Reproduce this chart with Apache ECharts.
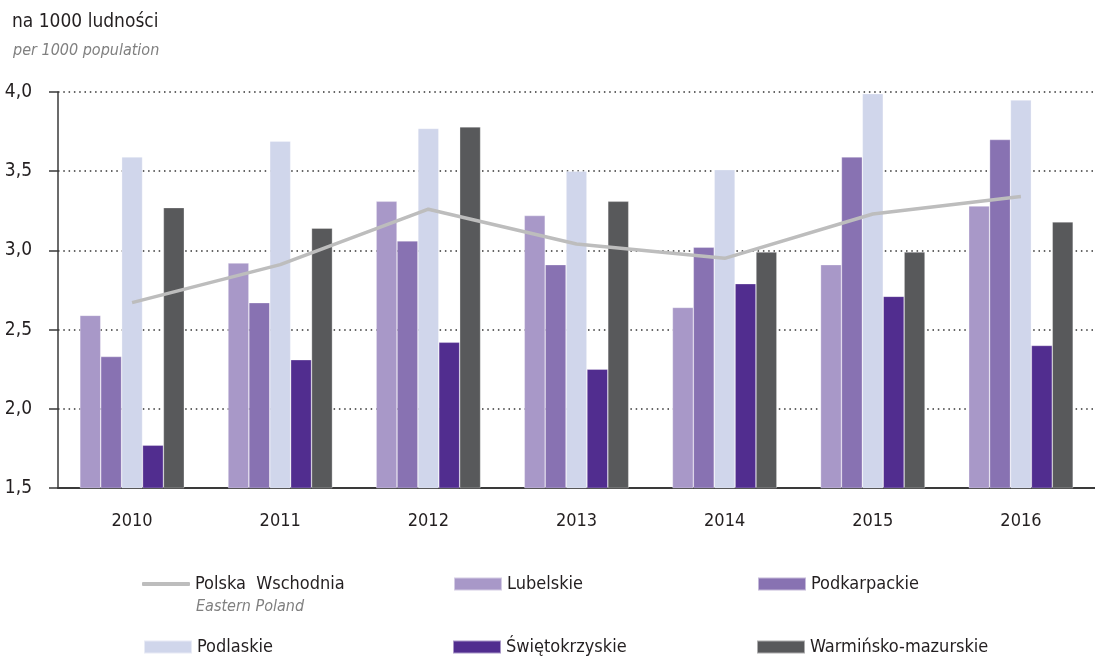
<!DOCTYPE html>
<html>
<head>
<meta charset="utf-8">
<script src="https://cdn.jsdelivr.net/npm/echarts@6/dist/echarts.min.js"></script>
<style>
  html, body { margin: 0; padding: 0; background: #fff; }
  #chart { width: 1095px; height: 657px; }
</style>
</head>
<body>
<div id="chart"></div>
<script>
const years = ['2010', '2011', '2012', '2013', '2014', '2015', '2016']
const polskaWschodnia = [2.67, 2.91, 3.26, 3.04, 2.95, 3.23, 3.34]
const lubelskie = [2.59, 2.92, 3.31, 3.22, 2.64, 2.91, 3.28]
const podkarpackie = [2.33, 2.67, 3.06, 2.91, 3.02, 3.59, 3.70]
const podlaskie = [3.59, 3.69, 3.77, 3.50, 3.51, 3.99, 3.95]
const swietokrzyskie = [1.77, 2.31, 2.42, 2.25, 2.79, 2.71, 2.40]
const warminskoMazurskie = [3.27, 3.14, 3.78, 3.31, 2.99, 2.99, 3.18]

const font = '"Liberation Sans Narrow", "DejaVu Sans Condensed", "Liberation Sans", sans-serif'
const textColor = '#231f20'

const chart = echarts.init(document.getElementById('chart'))

function bar(name, data, color) {
  return {
    name: name,
    type: 'bar',
    data: data,
    barGap: 0,
    barCategoryGap: '29.5%',
    itemStyle: { color: color, borderColor: 'rgba(255,255,255,0.5)', borderWidth: 0.6 }
  }
}

function legendAt(name, left, top, icon, h) {
  return {
    data: [{ name: name, icon: icon || 'rect' }],
    left: left,
    top: top,
    padding: 0,
    itemWidth: 48,
    itemHeight: h || 13,
    itemGap: 6,
    selectedMode: false,
    textStyle: { fontFamily: font, fontSize: 18, color: textColor }
  }
}

const option = {
  animation: false,
  textStyle: { fontFamily: font },
  title: [
    {
      text: 'na 1000 ludności',
      left: 7,
      top: 8,
      textStyle: { fontFamily: font, fontSize: 19, fontWeight: 'normal', color: textColor }
    },
    {
      text: 'per 1000 population',
      left: 8,
      top: 38,
      textStyle: { fontFamily: font, fontSize: 16, fontWeight: 'normal', fontStyle: 'italic', color: '#808080' }
    }
  ],
  legend: [
    legendAt('Polska  Wschodnia', 142, 575, 'roundRect', 4),
    legendAt('Lubelskie', 453, 575),
    legendAt('Podkarpackie', 757, 575),
    legendAt('Podlaskie', 143, 638),
    legendAt('Świętokrzyskie', 452, 638),
    legendAt('Warmińsko-mazurskie', 756, 638)
  ],
  graphic: [
    {
      type: 'text',
      left: 196,
      top: 599,
      style: { text: 'Eastern Poland', font: 'italic 16px ' + font, fill: '#808080' }
    }
  ],
  grid: { left: 58, top: 92, width: 1043, height: 396 },
  xAxis: {
    type: 'category',
    data: years,
    axisLine: { lineStyle: { color: '#3a3a3a', width: 2 } },
    axisTick: { length: 8, lineStyle: { color: '#3a3a3a', width: 1.5 } },
    axisLabel: { fontFamily: font, fontSize: 18, color: textColor, margin: 24 }
  },
  yAxis: {
    type: 'value',
    min: 1.5,
    max: 4.0,
    interval: 0.5,
    axisLine: { show: true, lineStyle: { color: '#3a3a3a', width: 1.5 } },
    axisTick: { show: true, length: 9, lineStyle: { color: '#3a3a3a', width: 1.5 } },
    axisLabel: {
      fontFamily: font,
      fontSize: 19,
      color: textColor,
      margin: 26,
      formatter: function (v) { return v.toFixed(1).replace('.', ',') }
    },
    splitLine: { lineStyle: { color: '#333', width: 1.5, type: [1.5, 3.8] } }
  },
  series: [
    bar('Lubelskie', lubelskie, '#a898c8'),
    bar('Podkarpackie', podkarpackie, '#8872b2'),
    bar('Podlaskie', podlaskie, '#d0d6eb'),
    bar('Świętokrzyskie', swietokrzyskie, '#512d8f'),
    bar('Warmińsko-mazurskie', warminskoMazurskie, '#58595b'),
    {
      name: 'Polska  Wschodnia',
      type: 'line',
      data: polskaWschodnia,
      symbol: 'none',
      z: 5,
      itemStyle: { color: '#bdbdbd' },
      lineStyle: { color: '#bdbdbd', width: 3.5 }
    }
  ]
}

chart.setOption(option)
</script>
</body>
</html>
